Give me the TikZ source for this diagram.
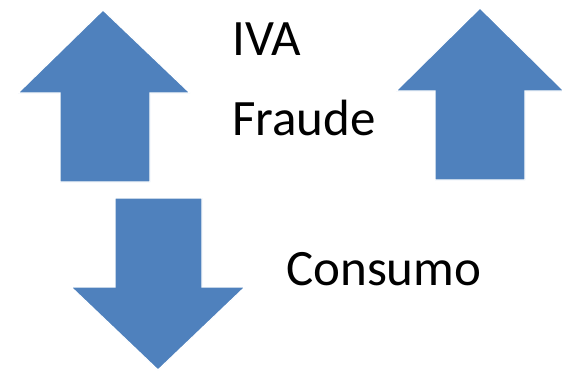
\documentclass[tikz,border=0pt]{standalone}
\usepackage{fontspec}
\setmainfont{Carlito}
\definecolor{arrowblue}{HTML}{4F81BD}
\begin{document}
\begin{tikzpicture}[x=1pt,y=-1pt,
  bigarrow/.style={fill=arrowblue,draw=white,line width=1.2pt,line join=miter},
  label/.style={anchor=base west,inner sep=0pt,font=\fontsize{51}{60}\selectfont}]
\useasboundingbox (0,0) rectangle (562,372);
% left up arrow
\path[bigarrow] (103,10) -- (190,93) -- (150,93) -- (150,182) -- (60,182) -- (60,93) -- (18,93) -- cycle;
% right up arrow
\path[bigarrow] (480,8) -- (564,91) -- (525,91) -- (525,180) -- (435,180) -- (435,91) -- (396,91) -- cycle;
% down arrow
\path[bigarrow] (115,198) -- (202,198) -- (202,287) -- (245,287) -- (158,370) -- (71,287) -- (115,287) -- cycle;
\node[label] (iva) at (232,55) {IVA};
\node[label] (fraude) at (232,135) {Fraude};
\node[label] (consumo) at (286,285) {Consumo};
\end{tikzpicture}
\end{document}
